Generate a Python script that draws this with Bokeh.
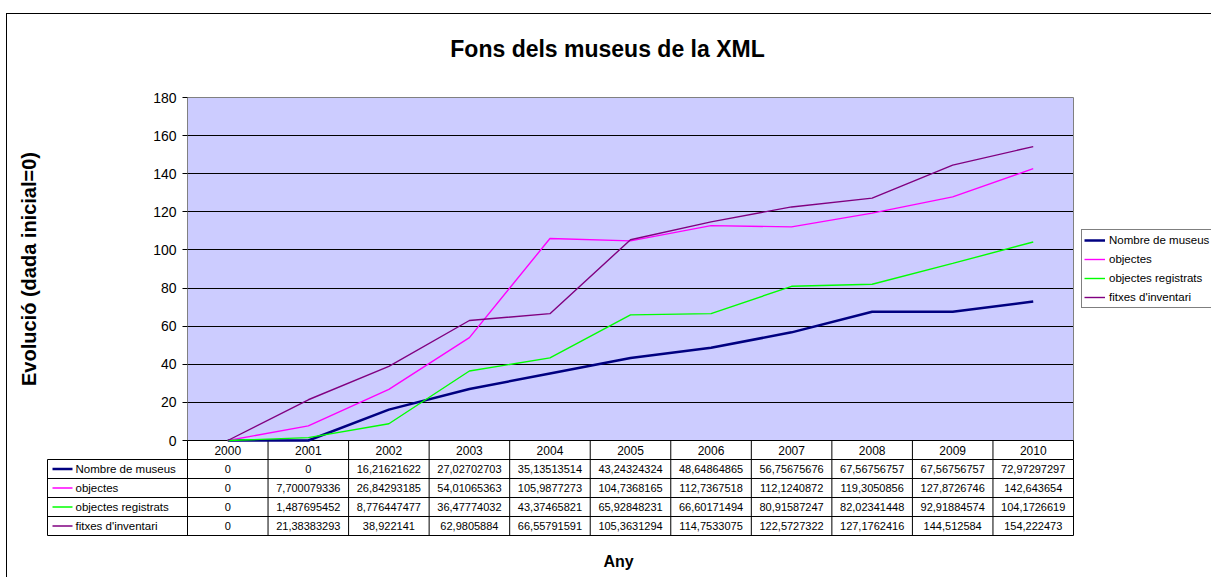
from bokeh.plotting import figure
from bokeh.models import (Range1d, FixedTicker, Grid, BoxAnnotation, Legend,
                          LegendItem, Label, ColumnDataSource, Column, LinearAxis)
from bokeh.core.properties import value
from bokeh.embed import file_html
from bokeh.resources import INLINE

# ---------------- data ----------------
years = ["2000", "2001", "2002", "2003", "2004", "2005",
         "2006", "2007", "2008", "2009", "2010"]
series_names = ["Nombre de museus", "objectes", "objectes registrats",
                "fitxes d'inventari"]
nombre_museus = [0, 0, 16.21621622, 27.02702703, 35.13513514, 43.24324324,
                 48.64864865, 56.75675676, 67.56756757, 67.56756757, 72.97297297]
objectes = [0, 7.700079336, 26.84293185, 54.01065363, 105.9877273, 104.7368165,
            112.7367518, 112.1240872, 119.3050856, 127.8726746, 142.643654]
objectes_registrats = [0, 1.487695452, 8.776447477, 36.47774032, 43.37465821,
                       65.92848231, 66.60171494, 80.91587247, 82.02341448,
                       92.91884574, 104.1726619]
fitxes_inventari = [0, 21.38383293, 38.922141, 62.9805884, 66.55791591,
                    105.3631294, 114.7533075, 122.5727322, 127.1762416,
                    144.512584, 154.222473]
y_ticks = [0, 20, 40, 60, 80, 100, 120, 140, 160, 180]

series_values = [nombre_museus, objectes, objectes_registrats, fitxes_inventari]
colors = ["#000080", "#FF00FF", "#00FF00", "#800080"]
widths = [2.5, 1.4, 1.4, 1.4]

FONT = "Liberation Sans"
n = len(years)
nrows = len(series_names)
YMAX = y_ticks[-1]

# ---------------- geometry (pixels) ----------------
W, H = 1204, 563
PLOT_L = 180            # left edge of plot area, px from figure left
PLOT_ZERO = 426         # value 0, px from figure top
PX_X = 886 / n          # px per category
PX_Y = 343 / YMAX       # px per value unit
HEAD = 19 / PX_Y        # one table row, in value units
LABEL_W = 140 / PX_X    # table label column, in category units


def fmt(v):
    return ("%.10g" % v).replace(".", ",")


xs = [i + 0.5 for i in range(n)]

p = figure(width=W, height=H,
           x_range=Range1d(-PLOT_L / PX_X, (W - PLOT_L) / PX_X),
           y_range=Range1d(-(H - PLOT_ZERO) / PX_Y, PLOT_ZERO / PX_Y),
           output_backend="svg", toolbar_location=None,
           x_axis_location=None, y_axis_location=None,
           min_border=0, min_border_left=0, min_border_right=0,
           min_border_top=0, min_border_bottom=0,
           background_fill_color="white", border_fill_color="white",
           outline_line_color=None)
p.center = [c for c in p.center if not isinstance(c, Grid)]

ax = LinearAxis(ticker=FixedTicker(ticks=y_ticks), fixed_location=0,
                bounds=(0, YMAX))
ax.axis_line_color = None
ax.major_tick_out = 5
ax.major_tick_in = 0
ax.minor_tick_out = 0
ax.minor_tick_in = 0
ax.major_tick_line_color = "black"
ax.major_label_standoff = 6
ax.major_label_text_font = FONT
ax.major_label_text_font_size = "14px"
ax.major_label_text_color = "black"
ax.axis_label = "Evolució (dada inicial=0)"
ax.axis_label_text_font = FONT
ax.axis_label_text_font_size = "20px"
ax.axis_label_text_font_style = "bold"
ax.axis_label_text_color = "black"
ax.axis_label_standoff = 110
p.add_layout(ax, "left")

# plot area background and grid
p.add_layout(BoxAnnotation(left=0, right=n, bottom=0, top=YMAX,
                           fill_color="#CCCCFF", fill_alpha=1,
                           line_color=None, level="underlay"))
p.add_layout(Grid(dimension=1, ticker=FixedTicker(ticks=y_ticks[1:-1]),
                  grid_line_color="black", grid_line_width=1,
                  cross_bounds=(0, n), level="underlay"))
p.quad(left=0, right=n, bottom=0, top=YMAX, fill_color=None,
       line_color="#808080", line_width=1)
p.segment(x0=[0], y0=[0], x1=[n], y1=[0], line_color="black", line_width=1)

# ---------------- data table ----------------
# header separators
p.segment(x0=list(range(n + 1)), y0=[-HEAD] * (n + 1),
          x1=list(range(n + 1)), y1=[0] * (n + 1),
          line_color="black", line_width=1)
p.text(x=xs, y=[-HEAD / 2] * n, text=years, text_align="center",
       text_baseline="middle", text_font=value(FONT),
       text_font_size=value("12px"), text_color="black")
# horizontal rules of the data rows
hy = [-HEAD * (k + 1) for k in range(nrows + 1)]
p.segment(x0=[-LABEL_W] * len(hy), y0=hy, x1=[n] * len(hy), y1=hy,
          line_color="black", line_width=1)
# vertical rules of the data rows
vx = [-LABEL_W] + list(range(n + 1))
p.segment(x0=vx, y0=[-HEAD] * len(vx), x1=vx,
          y1=[-HEAD * (nrows + 1)] * len(vx),
          line_color="black", line_width=1)

row_y = [-HEAD * (r + 1.5) for r in range(nrows)]
tx, ty, tt = [], [], []
for r, vals in enumerate(series_values):
    for j, v in enumerate(vals):
        tx.append(xs[j])
        ty.append(row_y[r])
        tt.append(fmt(v))
p.text(x="x", y="y", text="t", source=ColumnDataSource(dict(x=tx, y=ty, t=tt)),
       text_align="center", text_baseline="middle", text_font=value(FONT),
       text_font_size=value("11px"), text_color="black")

p.segment(x0=[-LABEL_W + 5 / PX_X] * nrows, y0=row_y,
          x1=[-LABEL_W + 25 / PX_X] * nrows, y1=row_y,
          line_color=colors, line_width=widths)
p.text(x=[-LABEL_W + 28 / PX_X] * nrows, y=row_y, text=series_names,
       text_align="left", text_baseline="middle", text_font=value(FONT),
       text_font_size=value("11.5px"), text_color="black")

# ---------------- series ----------------
items = []
for name, vals, c, w in zip(series_names, series_values, colors, widths):
    r = p.line(x=xs, y=vals, line_color=c, line_width=w)
    items.append(LegendItem(label=name, renderers=[r]))

legend = Legend(items=items, location=(1074, 269),
                label_text_font=FONT, label_text_font_size="11.5px",
                label_text_color="black",
                glyph_width=21, glyph_height=16, label_height=16,
                label_standoff=4, spacing=3, padding=2, margin=0,
                border_line_color="black", border_line_width=1,
                background_fill_color="white", background_fill_alpha=1)
p.add_layout(legend)

p.add_layout(Label(x=600, y=529, x_units="screen", y_units="screen",
                   text="Fons dels museus de la XML", text_align="center",
                   text_baseline="middle", text_font=FONT,
                   text_font_size="23px", text_font_style="bold",
                   text_color="black"))
p.add_layout(Label(x=611, y=16, x_units="screen", y_units="screen",
                   text="Any", text_align="center", text_baseline="middle",
                   text_font=FONT, text_font_size="16px",
                   text_font_style="bold", text_color="black"))

layout = Column(children=[p], margin=(13, 0, 0, 6),
                styles={"border-left": "1px solid black",
                        "border-top": "1px solid black"})

open("out.html", "w").write(file_html(layout, INLINE))
